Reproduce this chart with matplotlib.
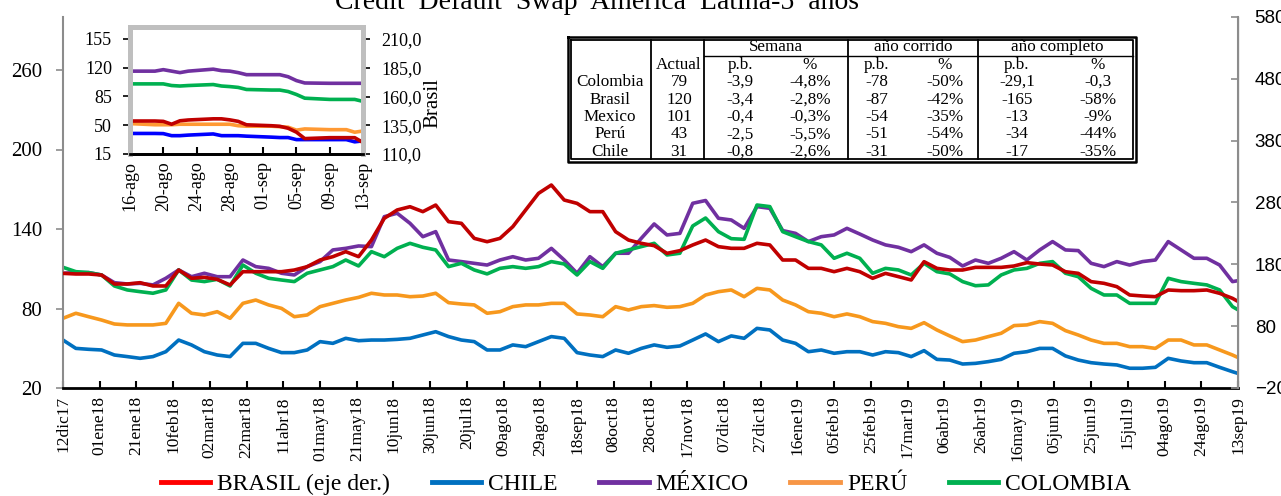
import numpy as np
import pandas as pd
import matplotlib
matplotlib.use('Agg')
from matplotlib import pyplot as plt
from matplotlib.lines import Line2D

plt.rcParams['font.family'] = ['Liberation Serif', 'DejaVu Serif']

# weekly readings 12dic17 .. 10sep19, plus the last day 13sep19
fechas = list(pd.date_range('2017-12-12', periods=92, freq='7D')) + [pd.Timestamp('2019-09-13')]

brasil = [165.4, 164.4, 164.4, 162.7, 148.2, 148.2, 150.3, 145.0, 145.0, 170.8, 157.4, 159.0,
          155.7, 146.6, 168.1, 168.1, 168.1, 168.1, 170.8, 176.2, 187.0, 192.4, 200.5,
          192.4, 219.3, 254.4, 267.9, 273.2, 265.2, 275.9, 249.0, 246.3, 222.0, 216.6, 222.0,
          240.9, 267.9, 294.8, 308.3, 284.0, 278.6, 265.2, 265.2, 232.8, 219.3, 214.0,
          210.2, 197.8, 202.1, 211.3, 219.3, 208.6, 205.9, 205.9, 214.0, 211.3, 187.0, 187.0,
          173.5, 173.5, 168.1, 173.5, 168.1, 157.4, 165.4, 160.1, 154.7, 184.3, 173.5,
          170.8, 170.8, 175.1, 175.1, 175.1, 177.3, 182.7, 180.5, 178.9, 168.1, 165.4, 152.0,
          149.3, 143.9, 130.4, 128.8, 127.7, 138.5, 137.4, 137.4, 138.5, 133.1, 125.0, 120.0]
chile = [56.2, 49.9, 49.2, 48.7, 44.9, 43.7, 42.4, 43.7, 47.4, 56.2, 52.5, 47.4,
         44.9, 43.7, 53.7, 53.7, 49.9, 46.7, 46.7, 48.7, 55.0, 53.7, 57.5,
         55.7, 56.2, 56.2, 56.7, 57.5, 60.0, 62.5, 58.8, 56.2, 55.0, 48.7, 48.7,
         52.5, 51.2, 55.0, 58.8, 57.5, 46.7, 44.9, 43.7, 48.7, 46.2, 49.9,
         52.5, 50.7, 51.7, 56.2, 60.8, 55.0, 59.3, 57.5, 65.0, 63.8, 56.2, 53.7,
         47.4, 48.7, 46.2, 47.4, 47.4, 44.9, 47.4, 46.7, 43.7, 48.2, 41.6,
         41.1, 38.1, 38.6, 39.9, 41.6, 46.2, 47.4, 49.9, 49.9, 44.2, 41.1, 39.1,
         38.1, 37.4, 34.9, 34.9, 35.6, 42.4, 40.4, 39.1, 39.1, 35.6, 32.3, 31.0]
mexico = [106.6, 107.1, 107.1, 105.3, 99.5, 98.5, 99.0, 97.8, 102.8, 109.1, 104.0, 106.6,
          104.0, 104.0, 116.6, 111.6, 110.3, 106.6, 105.3, 111.6, 115.4, 124.2, 125.4,
          127.2, 126.7, 149.3, 151.9, 144.3, 134.2, 138.0, 116.6, 115.4, 114.1, 112.8, 116.6,
          119.1, 116.6, 117.9, 125.4, 116.6, 106.6, 119.1, 111.6, 121.7, 121.7, 133.0,
          143.8, 135.5, 136.7, 159.4, 161.5, 148.1, 146.8, 140.5, 156.9, 155.6, 138.8, 136.7,
          130.5, 134.2, 135.5, 140.5, 136.2, 131.7, 128.0, 126.2, 122.9, 128.0, 121.7,
          118.6, 112.1, 116.6, 114.1, 117.9, 122.9, 116.6, 124.2, 130.5, 124.2, 123.7, 114.1,
          111.6, 115.4, 112.8, 115.4, 116.6, 130.5, 124.2, 117.9, 117.9, 112.8, 100.3, 101.0]
peru = [72.6, 76.4, 73.8, 71.3, 68.3, 67.6, 67.6, 67.6, 68.8, 83.9, 76.4, 75.1,
        77.6, 72.6, 83.9, 86.4, 82.7, 80.1, 73.8, 75.1, 81.4, 83.9, 86.4,
        88.4, 91.5, 90.2, 90.2, 88.9, 89.4, 91.5, 84.4, 83.4, 82.7, 76.4, 77.6,
        81.4, 82.7, 82.7, 83.9, 83.9, 75.9, 75.1, 73.8, 81.4, 78.9, 81.4,
        82.2, 80.9, 81.4, 83.9, 90.2, 92.7, 94.0, 88.9, 95.2, 94.0, 86.4, 82.7,
        77.6, 76.4, 73.8, 75.9, 73.8, 70.1, 68.8, 66.3, 65.0, 69.3, 63.8,
        59.3, 55.0, 56.2, 58.8, 61.3, 67.1, 67.6, 70.1, 68.8, 63.3, 60.0, 56.2,
        53.7, 53.7, 51.2, 51.2, 49.9, 56.2, 56.2, 52.5, 52.5, 48.7, 44.9, 43.0]
colombia = [111.1, 107.8, 107.1, 105.3, 97.0, 94.0, 92.7, 91.5, 94.0, 109.1, 101.5, 100.3,
            102.0, 97.0, 112.8, 106.6, 102.8, 101.5, 100.3, 106.6, 109.1, 111.6, 116.6,
            112.1, 122.9, 119.1, 125.4, 129.2, 126.2, 124.2, 111.6, 114.1, 109.1, 106.1, 110.3,
            111.6, 110.3, 111.6, 115.4, 113.6, 105.3, 115.4, 110.3, 121.7, 124.2, 126.7,
            129.2, 120.4, 121.7, 142.3, 148.3, 138.0, 132.7, 132.2, 158.1, 156.9, 138.0, 134.2,
            130.5, 128.0, 117.9, 121.7, 117.9, 106.6, 110.3, 109.1, 105.3, 114.1, 107.8,
            106.1, 100.3, 97.2, 97.8, 105.3, 109.1, 110.3, 114.1, 115.4, 106.6, 104.0, 95.2,
            90.2, 90.2, 83.9, 83.9, 83.9, 102.8, 100.3, 99.0, 97.8, 94.0, 81.4, 79.0]

# last four weeks, business days
fechas_zoom = pd.bdate_range('2019-08-16', '2019-09-13')
brasil_zoom = [138.7, 138.7, 138.4, 135.9, 138.9, 139.6, 140.6, 140.6, 139.7, 138.4, 135.4,
               134.6, 134.1, 132.4, 129.0, 123.4, 124.2, 124.2, 124.2, 124.2, 120.0]
chile_zoom = [40.0, 40.0, 39.8, 37.3, 37.3, 38.0, 39.4, 37.3, 37.3, 37.3, 36.7,
              35.5, 35.0, 35.0, 32.5, 32.5, 32.5, 32.5, 32.5, 29.8, 31.0]
mexico_zoom = [115.8, 115.8, 117.6, 115.8, 114.0, 115.8, 118.2, 116.4, 115.8, 114.0, 111.5,
               111.5, 111.5, 109.0, 104.3, 101.4, 101.0, 101.0, 101.0, 101.0, 101.0]
peru_zoom = [52.0, 50.6, 50.6, 50.6, 51.2, 51.2, 51.2, 51.2, 51.2, 49.4, 48.8,
             48.8, 48.2, 47.6, 44.0, 45.5, 44.6, 44.6, 44.6, 41.5, 43.0]
colombia_zoom = [100.3, 100.3, 100.3, 98.3, 97.7, 98.3, 99.5, 97.7, 97.0, 96.0, 93.5,
                 92.8, 92.8, 91.0, 87.4, 82.9, 81.4, 81.4, 81.4, 81.4, 79.0]

# table
paises_tabla = ['Colombia', 'Brasil', 'Mexico', 'Perú', 'Chile']
actual = ['79', '120', '101', '43', '31']
semana_pb = ['-3,9', '-3,4', '-0,4', '-2,5', '-0,8']
semana_pct = ['-4,8%', '-2,8%', '-0,3%', '-5,5%', '-2,6%']
corrido_pb = ['-78', '-87', '-54', '-51', '-31']
corrido_pct = ['-50%', '-42%', '-35%', '-54%', '-50%']
completo_pb = ['-29,1', '-165', '-13', '-34', '-17']
completo_pct = ['-0,3', '-58%', '-9%', '-44%', '-35%']

meses = ['ene', 'feb', 'mar', 'abr', 'may', 'jun', 'jul', 'ago', 'sep', 'oct', 'nov', 'dic']

ROJO, AZUL, MORADO, NARANJA, VERDE = '#C00000', '#0070C0', '#7030A0', '#F7981D', '#00B050'
GRIS = '#8C8C8C'

W, H = 1281, 496
fig = plt.figure(figsize=(W / 100, H / 100), dpi=100)

def box(x0, y0, x1, y1):
    # pixel box (top-left origin) -> figure fraction rect
    return [x0 / W, 1 - y1 / H, (x1 - x0) / W, (y1 - y0) / H]

# ---- main chart
ax = fig.add_axes(box(63, 17, 1238, 388))
ax2 = ax.twinx()
ax.plot(fechas, chile, color=AZUL, lw=2.6)
ax.plot(fechas, mexico, color=MORADO, lw=2.6)
ax.plot(fechas, peru, color=NARANJA, lw=2.6)
ax.plot(fechas, colombia, color=VERDE, lw=2.6)
ax2.plot(fechas, brasil, color=ROJO, lw=2.6)

ax.set_xlim(fechas[0], fechas[-1])
ax.set_ylim(20, 300)
ax.set_yticks([20, 80, 140, 200, 260])
ax2.set_ylim(-20, 580)
ax2.set_yticks(range(-20, 581, 100))

ticks = pd.date_range('2017-12-12', '2019-09-13', freq='20D')
ax.set_xticks(ticks)
ax.set_xticklabels(['%02d%s%02d' % (d.day, meses[d.month - 1], d.year % 100) for d in ticks],
                   rotation=90, fontsize=12.5)
ax.spines['top'].set_visible(False)
ax2.spines['top'].set_visible(False)
ax.spines['left'].set_color(GRIS)
ax.spines['left'].set_linewidth(1.5)
ax2.spines['left'].set_visible(False)
ax2.spines['right'].set_color(GRIS)
ax2.spines['right'].set_linewidth(1.5)
ax.spines['bottom'].set_linewidth(2)
ax2.spines['bottom'].set_visible(False)
ax.tick_params(axis='y', direction='out', color=GRIS, length=5, width=1.2, labelsize=15, pad=10)
ax.tick_params(axis='x', direction='in', length=5, width=1.5, pad=6)
ax2.tick_params(axis='y', direction='in', color=GRIS, length=5, width=1.2, pad=12)
for t in ax2.get_yticklabels():
    t.set_fontfamily('Liberation Sans')
    t.set_fontsize(13.5)

fig.text(597 / W, 1 - 9 / H, 'Credit  Default  Swap  America  Latina-5  años',
         ha='center', va='baseline', fontsize=20)

# ---- inset, last four weeks
axi = fig.add_axes(box(130, 27, 363, 154))
axi2 = axi.twinx()
axi.plot(fechas_zoom, mexico_zoom, color=MORADO, lw=2.6)
axi.plot(fechas_zoom, colombia_zoom, color=VERDE, lw=2.6)
axi.plot(fechas_zoom, peru_zoom, color='#FF9933', lw=2.6)
axi.plot(fechas_zoom, chile_zoom, color='#0000FF', lw=2.6)
axi2.plot(fechas_zoom, brasil_zoom, color=ROJO, lw=2.6)
axi.set_xlim(fechas_zoom[0], fechas_zoom[-1])
axi.set_ylim(15, 169.5)
axi.set_yticks([15, 50, 85, 120, 155])
axi2.set_ylim(110, 220.5)
axi2.set_yticks([110, 135, 160, 185, 210])
axi2.set_yticklabels([('%.1f' % v).replace('.', ',') for v in [110, 135, 160, 185, 210]])
ticks_i = pd.date_range('2019-08-16', '2019-09-13', freq='4D')
axi.set_xticks(ticks_i)
axi.set_xticklabels(['%02d-%s' % (d.day, meses[d.month - 1]) for d in ticks_i],
                    rotation=90, fontsize=13)
for a in (axi, axi2):
    for s in ['left', 'top', 'right']:
        a.spines[s].set_color('#BFBFBF')
        a.spines[s].set_linewidth(3.5)
    a.spines['bottom'].set_linewidth(2)
axi.tick_params(axis='y', length=5, width=1.2, labelsize=13, pad=8)
axi2.tick_params(axis='y', length=5, width=1.2, labelsize=13, pad=8)
axi.tick_params(axis='x', direction='in', length=5, width=1.5, pad=5)
fig.text(433 / W, 1 - 103 / H, 'Brasil', rotation=90, ha='center', va='center', fontsize=15)

# ---- table drawn in pixel coords
tb = fig.add_axes([0, 0, 1, 1], facecolor='none')
tb.set_xlim(0, W)
tb.set_ylim(H, 0)
tb.axis('off')
x0, x1, y0, y1 = 568, 1136, 37, 162
for d in (0, 3):
    tb.plot([x0 + d, x1 - d, x1 - d, x0 + d, x0 + d], [y0 + d, y0 + d, y1 - d, y1 - d, y0 + d],
            color='black', lw=1.3 if d else 1.8)
for xv in (651, 704, 848, 978):
    tb.plot([xv, xv], [y0 + 3, y1 - 3], color='black', lw=1.3)
tb.plot([704, x1 - 3], [56, 56], color='black', lw=1.0)
fs = 12.3
tb.text(776, 47, 'Semana', ha='center', va='center', fontsize=fs)
tb.text(913, 47, 'año corrido', ha='center', va='center', fontsize=fs)
tb.text(1057, 47, 'año completo', ha='center', va='center', fontsize=fs)
tb.text(679, 65, 'Actual', ha='center', va='center', fontsize=fs)
for xc in (740, 877, 1017):
    tb.text(xc, 65, 'p.b.', ha='center', va='center', fontsize=fs)
for xc in (810, 945, 1098):
    tb.text(xc, 65, '%', ha='center', va='center', fontsize=fs)
cols = [(610, paises_tabla), (679, actual), (740, semana_pb), (810, semana_pct),
        (877, corrido_pb), (945, corrido_pct), (1017, completo_pb), (1098, completo_pct)]
for i in range(len(paises_tabla)):
    yc = 82 + i * 17.5
    for xc, col in cols:
        tb.text(xc, yc, col[i], ha='center', va='center', fontsize=fs)

# ---- legend
handles = [Line2D([], [], color=c, lw=3.5) for c in ['#FF0000', AZUL, MORADO, '#F79646', VERDE]]
fig.legend(handles, ['BRASIL (eje der.)', 'CHILE', 'MÉXICO', 'PERÚ', 'COLOMBIA'],
           loc='center', bbox_to_anchor=(646 / W, 1 - 484 / H), ncol=5, frameon=False,
           fontsize=17, handlelength=2.1, handletextpad=0.3, columnspacing=1.75)

fig.savefig('out.png', dpi=100)
